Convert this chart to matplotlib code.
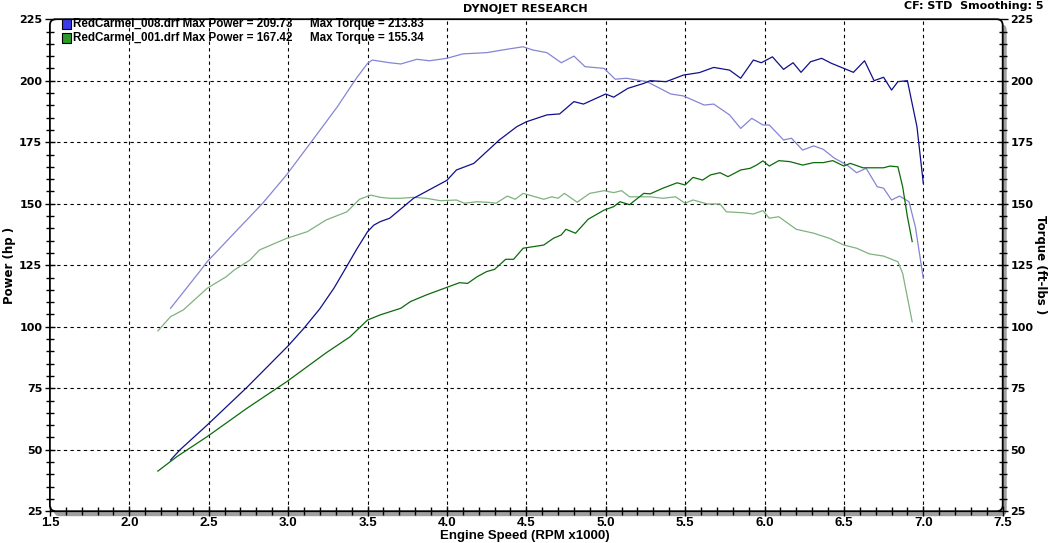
import matplotlib
matplotlib.use("Agg")
import matplotlib.pyplot as plt
from matplotlib.patches import FancyBboxPatch, Rectangle
from matplotlib.transforms import Affine2D
from matplotlib.ticker import MultipleLocator

# ---------------- data ----------------
rpm_p008 = [2.26, 2.32, 2.49, 2.74, 3.00, 3.10, 3.20, 3.29, 3.36, 3.43, 3.50, 3.54, 3.58, 3.64, 3.79, 4.00, 4.06,
            4.17, 4.33, 4.44, 4.50, 4.63, 4.71, 4.80, 4.86, 5.00, 5.05, 5.14, 5.24, 5.28, 5.38, 5.49,
            5.59, 5.68, 5.78, 5.85, 5.93, 5.98, 6.05, 6.12, 6.18, 6.23, 6.29, 6.36, 6.42, 6.50, 6.56,
            6.63, 6.69, 6.75, 6.80, 6.84, 6.90, 6.96, 7.00]
hp_p008 = [45.8, 50.0, 60.0, 75.3, 92.2, 99.4, 107.3, 115.8, 123.5, 131.3, 138.6, 141.3, 142.7, 144.1, 152.2, 159.5, 163.7,
           166.4, 175.9, 181.3, 183.3, 186.1, 186.5, 191.5, 190.5, 194.6, 193.3, 196.9, 198.9, 200.0, 199.6, 202.3,
           203.3, 205.4, 204.3, 201.0, 208.4, 207.3, 209.7, 204.6, 207.3, 203.4, 207.7, 209.1, 207.1, 205.0, 203.4,
           208.1, 200.0, 201.4, 196.2, 199.6, 200.0, 181.3, 158.3]

rpm_t008 = [2.26, 2.45, 2.49, 2.66, 2.84, 2.99, 3.14, 3.31, 3.43, 3.50, 3.53, 3.64, 3.71, 3.81, 3.89,
            4.00, 4.10, 4.25, 4.38, 4.48, 4.54, 4.63, 4.72, 4.80, 4.87, 4.99, 5.06, 5.13, 5.26, 5.41,
            5.49, 5.62, 5.68, 5.78, 5.85, 5.92, 5.99, 6.03, 6.12, 6.17, 6.24, 6.31, 6.37, 6.44, 6.52,
            6.58, 6.64, 6.71, 6.75, 6.80, 6.85, 6.91, 6.95, 7.00]
tq_t008 = [107.5, 123.0, 126.4, 138.0, 150.2, 161.7, 174.6, 189.4, 201.0, 207.0, 208.4, 207.3, 206.8, 208.7, 208.1,
           209.1, 210.9, 211.4, 212.8, 213.8, 212.5, 211.4, 207.3, 210.0, 205.7, 205.0, 200.6, 201.0, 199.6, 194.6,
           193.8, 190.1, 190.5, 186.1, 180.6, 184.7, 182.0, 182.0, 175.9, 176.6, 171.8, 173.5, 172.1, 168.5, 165.7,
           162.6, 164.4, 156.9, 156.3, 151.5, 153.1, 150.8, 140.6, 119.7]

rpm_p001 = [2.18, 2.30, 2.49, 2.74, 2.99, 3.24, 3.39, 3.50, 3.58, 3.71, 3.77, 3.87, 4.00, 4.08, 4.13,
            4.19, 4.25, 4.30, 4.37, 4.42, 4.48, 4.54, 4.61, 4.67, 4.72, 4.75, 4.81, 4.89, 4.99, 5.05,
            5.09, 5.15, 5.24, 5.28, 5.36, 5.45, 5.50, 5.55, 5.61, 5.66, 5.72, 5.77, 5.85, 5.91, 5.95,
            5.99, 6.03, 6.09, 6.16, 6.24, 6.31, 6.37, 6.43, 6.50, 6.54, 6.62, 6.75, 6.79, 6.84, 6.87,
            6.90, 6.93]
hp_p001 = [41.3, 47.2, 55.3, 66.8, 77.6, 89.4, 95.9, 102.7, 104.8, 107.5, 110.2, 112.9, 116.0, 117.9, 117.6,
           120.3, 122.4, 123.3, 127.4, 127.4, 131.9, 132.5, 133.2, 135.9, 137.3, 139.6, 138.0, 143.7, 147.4, 148.8,
           150.8, 149.6, 154.2, 154.0, 156.3, 158.5, 157.6, 160.7, 159.6, 161.7, 162.6, 161.0, 163.7, 164.4, 165.7,
           167.4, 165.3, 167.5, 167.1, 165.7, 166.7, 166.7, 167.5, 165.3, 166.4, 164.6, 164.6, 165.3, 165.0, 156.9,
           144.7, 134.6]

rpm_t001 = [2.18, 2.26, 2.34, 2.49, 2.61, 2.66, 2.76, 2.82, 2.99, 3.12, 3.24, 3.37, 3.45, 3.52, 3.58,
            3.64, 3.71, 3.79, 3.87, 3.96, 4.06, 4.11, 4.19, 4.25, 4.31, 4.38, 4.43, 4.48, 4.54, 4.61,
            4.66, 4.70, 4.74, 4.82, 4.90, 4.99, 5.05, 5.10, 5.15, 5.28, 5.36, 5.44, 5.50, 5.55, 5.64,
            5.72, 5.76, 5.87, 5.93, 5.99, 6.03, 6.09, 6.20, 6.31, 6.41, 6.50, 6.58, 6.66, 6.75, 6.84,
            6.87, 6.93]
tq_t001 = [98.3, 104.1, 106.8, 115.6, 120.3, 123.0, 127.1, 131.2, 135.9, 138.6, 143.4, 146.7, 151.8, 153.5, 152.6,
           152.2, 152.2, 152.6, 152.2, 151.2, 151.5, 150.2, 150.8, 150.6, 150.2, 153.1, 151.8, 154.2, 153.1, 151.8,
           152.8, 152.2, 154.2, 150.6, 154.2, 155.3, 154.5, 155.3, 152.8, 152.8, 152.2, 152.8, 150.2, 151.5, 149.9,
           149.9, 146.7, 146.3, 145.8, 147.2, 144.1, 144.7, 139.6, 138.0, 135.9, 133.2, 131.9, 129.6, 128.7, 126.4,
           121.7, 102.0]

legend_files = ["RedCarmel_008.drf", "RedCarmel_001.drf"]
legend_power = ["209.73", "167.42"]
legend_torque = ["213.83", "155.34"]
x_ticks = [1.5, 2.0, 2.5, 3.0, 3.5, 4.0, 4.5, 5.0, 5.5, 6.0, 6.5, 7.0, 7.5]
y_ticks = [25, 50, 75, 100, 125, 150, 175, 200, 225]

# ---------------- figure ----------------
W, H = 1051, 543
fig = plt.figure(figsize=(W / 100, H / 100), dpi=100)
L, R, T, B = 49.9, 1002.7, 19.2, 511.2
ax = fig.add_axes([L / W, 1 - B / H, (R - L) / W, (B - T) / H])
ax.set_xlim(1.5, 7.5)
ax.set_ylim(25, 225)
ax.patch.set_visible(False)
for s in ax.spines.values():
    s.set_visible(False)

pxt = Affine2D().scale(1 / W, 1 / H) + fig.transFigure
# shadow
sh = FancyBboxPatch((L + 4, H - B - 5), R - L, B - T, boxstyle="round,pad=0,rounding_size=6",
                    transform=pxt, facecolor="#a0a0a0", edgecolor="none", zorder=-3)
fig.patches.append(sh)
fr = FancyBboxPatch((L, H - B), R - L, B - T, boxstyle="round,pad=0,rounding_size=6",
                    transform=pxt, facecolor="white", edgecolor="black", linewidth=1.3, zorder=-2)
fig.patches.append(fr)

# grid
for xv in x_ticks[1:-1]:
    ax.axvline(xv, color="black", linestyle=(0, (3, 3)), linewidth=0.8, zorder=1)
for yv in y_ticks[1:-1]:
    ax.axhline(yv, color="black", linestyle=(0, (3, 3)), linewidth=0.8, zorder=1)

# curves
ax.plot(rpm_t008, tq_t008, color="#8585d6", linewidth=0.9, zorder=3)
ax.plot(rpm_t001, tq_t001, color="#7fb27f", linewidth=0.9, zorder=3)
ax.plot(rpm_p001, hp_p001, color="#0b6b0b", linewidth=0.9, zorder=4)
ax.plot(rpm_p008, hp_p008, color="#10108c", linewidth=0.9, zorder=4)

tickfont = dict(family="DejaVu Sans", weight="bold", size=8)
ax.set_xticks(x_ticks)
ax.set_xticklabels([f"{v:.1f}" for v in x_ticks], family="Liberation Sans", weight="bold", size=9.5)
ax.xaxis.set_minor_locator(MultipleLocator(0.1))
ax.set_yticks(y_ticks)
ax.set_yticklabels([str(v) for v in y_ticks], **tickfont)
ax.yaxis.set_minor_locator(MultipleLocator(5))
ax.tick_params(axis="both", which="major", direction="inout", length=7, width=1, pad=2)
ax.tick_params(axis="both", which="minor", direction="inout", length=6, width=1)
ax.tick_params(axis="x", which="both", top=False, pad=1)

ax2 = ax.twinx()
ax2.set_ylim(25, 225)
for s in ax2.spines.values():
    s.set_visible(False)
ax2.set_yticks(y_ticks)
ax2.set_yticklabels([str(v) for v in y_ticks], **tickfont)
ax2.yaxis.set_minor_locator(MultipleLocator(5))
ax2.tick_params(axis="y", which="major", direction="inout", length=7, width=1, pad=2)
ax2.tick_params(axis="y", which="minor", direction="inout", length=6, width=1)

fig.text(525 / W, 1 - 536 / H, "Engine Speed (RPM x1000)", ha="center", va="center",
         family="Liberation Sans", weight="bold", size=9.5)
fig.text(10 / W, 1 - 265 / H, "Power (hp )", rotation=90, ha="center", va="center",
         family="DejaVu Sans", weight="bold", size=8.5)
fig.text(1041 / W, 1 - 265 / H, "Torque (ft-lbs )", rotation=-90, ha="center", va="center",
         family="DejaVu Sans", weight="bold", size=8.5)

fig.text(525 / W, 1 - 9 / H, "DYNOJET RESEARCH", ha="center", va="center",
         family="DejaVu Sans", weight="bold", size=8)
fig.text(1044 / W, 1 - 6 / H, "CF: STD  Smoothing: 5", ha="right", va="center",
         family="DejaVu Sans", weight="bold", size=8)

# legend
sq_colors = [("#3a3ae8", "#1010a0"), ("#2a9a2a", "#0b5b0b")]
for i in range(2):
    yc = 24 + i * 13.5
    fig.patches.append(Rectangle((62, H - yc - 5), 9, 10, transform=pxt, facecolor=sq_colors[i][0],
                                 edgecolor="black", linewidth=0.8, zorder=5))
    fig.text(73 / W, 1 - yc / H, f"{legend_files[i]} Max Power = {legend_power[i]}", ha="left", va="center",
             family="Liberation Sans", weight="bold", size=8.4, zorder=6)
    fig.text(310 / W, 1 - yc / H, f"Max Torque = {legend_torque[i]}", ha="left", va="center",
             family="Liberation Sans", weight="bold", size=8.4, zorder=6)

fig.savefig("out.png", dpi=100)
